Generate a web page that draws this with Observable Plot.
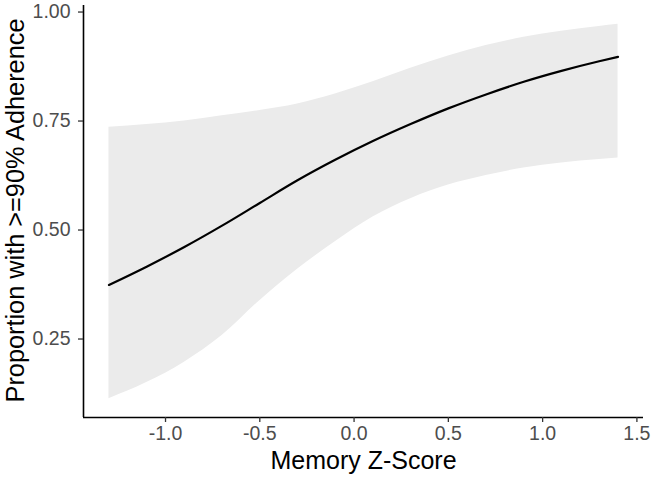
<!DOCTYPE html>
<html>
<head>
<meta charset="utf-8">
<script src="https://cdn.jsdelivr.net/npm/d3@7"></script>
<script src="https://cdn.jsdelivr.net/npm/@observablehq/plot@0.6"></script>
<style>
  html, body { margin: 0; padding: 0; background: #fff; }
  #chart svg { display: block; }
</style>
</head>
<body>
<div id="chart"></div>
<script>
// Memory Z-Score grid (x positions of the read values)
const memoryZ = [-1.3, -1.1, -0.9, -0.7, -0.5, -0.3, -0.1, 0.1, 0.3, 0.5, 0.7, 0.9, 1.1, 1.3, 1.4];
// Fitted proportion (line)
const fitted  = [0.374, 0.416, 0.461, 0.510, 0.562, 0.614, 0.661, 0.704, 0.743, 0.779, 0.811, 0.840, 0.865, 0.887, 0.897];
// Confidence band
const lower   = [0.113, 0.150, 0.197, 0.258, 0.338, 0.410, 0.473, 0.530, 0.572, 0.603, 0.625, 0.642, 0.654, 0.662, 0.665];
const upper   = [0.736, 0.742, 0.750, 0.762, 0.774, 0.789, 0.812, 0.840, 0.871, 0.899, 0.923, 0.942, 0.956, 0.967, 0.972];
// Tick labels
const xTicks = [-1.0, -0.5, 0.0, 0.5, 1.0, 1.5];
const yTicks = [0.25, 0.50, 0.75, 1.00];
const xTitle = "Memory Z-Score";
const yTitle = "Proportion with >=90% Adherence";

// Panel limits (data range expanded 5%)
const xDomain = [-1.435, 1.535];
const yDomain = [0.070, 1.015];

const rows = memoryZ.map((x, i) => ({x, fit: fitted[i], lo: lower[i], hi: upper[i]}));

const chart = Plot.plot({
  width: 653,
  height: 480,
  marginLeft: 83,
  marginRight: 10,
  marginTop: 5,
  marginBottom: 63,
  style: {fontFamily: "'Liberation Sans', Arial, Helvetica, sans-serif", background: "#fff"},
  x: {domain: xDomain},
  y: {domain: yDomain},
  marks: [
    Plot.areaY(rows, {x: "x", y1: "lo", y2: "hi", fill: "#ebebeb", curve: "monotone-x"}),
    Plot.line(rows, {x: "x", y: "fit", stroke: "#000", strokeWidth: 2.2, curve: "monotone-x"}),
    Plot.ruleX([xDomain[0]], {stroke: "#000", strokeWidth: 1.6}),
    Plot.ruleY([yDomain[0]], {stroke: "#000", strokeWidth: 1.6}),
    Plot.axisX(xTicks, {
      tickSize: 5, tickPadding: 4, fontSize: 19.5, stroke: "#333", strokeWidth: 1.3,
      color: "#4d4d4d", tickFormat: d => d.toFixed(1),
      label: null
    }),
    Plot.axisY(yTicks, {
      tickSize: 5, tickPadding: 8, fontSize: 19.5, stroke: "#333", strokeWidth: 1.3,
      color: "#4d4d4d", tickFormat: d => d.toFixed(2),
      label: null
    }),
    Plot.text([xTitle], {
      frameAnchor: "bottom", dy: 51, fontSize: 25, fill: "#000",
      text: d => d
    }),
    Plot.text([yTitle], {
      frameAnchor: "left", dx: -68, dy: -1, rotate: -90, textAnchor: "middle",
      fontSize: 25.3, fill: "#000",
      text: d => d
    })
  ]
});
document.getElementById("chart").appendChild(chart);
</script>
</body>
</html>
